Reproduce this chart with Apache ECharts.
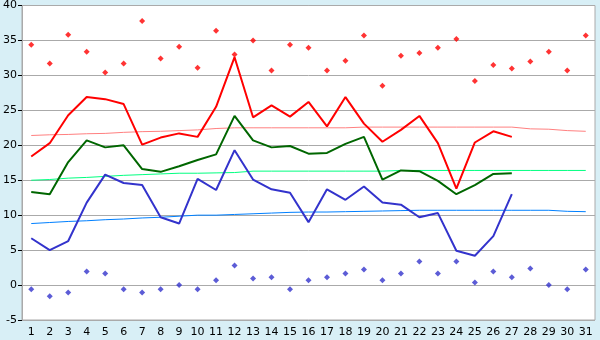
<!DOCTYPE html>
<html>
<head>
<meta charset="utf-8">
<script src="https://cdn.jsdelivr.net/npm/echarts@6/dist/echarts.min.js"></script>
<style>
  html, body { margin: 0; padding: 0; background: #d8eff6; }
  #chart { width: 600px; height: 340px; }
</style>
</head>
<body>
<div id="chart"></div>
<script>
const days = ['1','2','3','4','5','6','7','8','9','10','11','12','13','14','15','16','17','18','19','20','21','22','23','24','25','26','27','28','29','30','31']

// daily max / mean / min (observed up to day 27)
const maxTemp = [18.4, 20.3, 24.3, 26.9, 26.6, 25.9, 20.1, 21.1, 21.7, 21.2, 25.5, 32.6, 24.0, 25.7, 24.1, 26.2, 22.7, 26.9, 23.1, 20.5, 22.2, 24.2, 20.3, 13.8, 20.4, 22.0, 21.2, null, null, null, null]
const meanTemp = [13.3, 13.0, 17.6, 20.7, 19.7, 20.0, 16.6, 16.2, 17.0, 17.9, 18.7, 24.2, 20.7, 19.7, 19.9, 18.8, 18.9, 20.2, 21.2, 15.1, 16.4, 16.3, 14.9, 13.0, 14.3, 15.9, 16.0, null, null, null, null]
const minTemp = [6.7, 5.0, 6.3, 11.8, 15.8, 14.6, 14.3, 9.7, 8.8, 15.2, 13.6, 19.3, 15.1, 13.7, 13.2, 9.0, 13.7, 12.2, 14.1, 11.8, 11.5, 9.7, 10.3, 4.9, 4.2, 7.0, 13.0, null, null, null, null]

// long-term normals
const normMax = [21.4, 21.5, 21.55, 21.65, 21.7, 21.85, 21.95, 22.0, 22.1, 22.2, 22.4, 22.5, 22.5, 22.5, 22.5, 22.5, 22.5, 22.5, 22.6, 22.6, 22.6, 22.6, 22.6, 22.6, 22.6, 22.6, 22.6, 22.35, 22.3, 22.1, 22.0]
const normMean = [15.0, 15.1, 15.3, 15.4, 15.55, 15.7, 15.8, 15.9, 16.0, 16.0, 16.05, 16.1, 16.3, 16.3, 16.3, 16.3, 16.3, 16.3, 16.3, 16.3, 16.4, 16.4, 16.4, 16.4, 16.4, 16.4, 16.4, 16.4, 16.4, 16.4, 16.4]
const normMin = [8.8, 8.95, 9.1, 9.2, 9.35, 9.45, 9.6, 9.7, 9.85, 10.0, 10.0, 10.1, 10.2, 10.3, 10.4, 10.45, 10.45, 10.5, 10.55, 10.6, 10.65, 10.7, 10.7, 10.7, 10.7, 10.7, 10.7, 10.7, 10.7, 10.55, 10.5]

// records
const recordMax = [34.4, 31.7, 35.8, 33.4, 30.4, 31.7, 37.8, 32.4, 34.1, 31.1, 36.4, 33.0, 35.0, 30.7, 34.4, 33.95, 30.7, 32.1, 35.7, 28.5, 32.8, 33.2, 33.95, 35.2, 29.2, 31.5, 31.0, 32.0, 33.4, 30.7, 35.7]
const recordMin = [-0.6, -1.6, -1.05, 1.95, 1.67, -0.6, -1.05, -0.6, 0.0, -0.6, 0.67, 2.8, 0.95, 1.1, -0.6, 0.67, 1.1, 1.67, 2.24, 0.67, 1.67, 3.38, 1.67, 3.38, 0.38, 1.95, 1.1, 2.38, 0.0, -0.6, 2.24]

const chart = echarts.init(document.getElementById('chart'))

const axisText = { color: '#000', fontSize: 11, fontFamily: 'DejaVu Sans' }

function line (data, color, width, z) {
  return {
    type: 'line',
    data: data,
    showSymbol: false,
    connectNulls: false,
    z: z,
    animation: false,
    lineStyle: { color: color, width: width },
    itemStyle: { color: color }
  }
}

function dots (data, color) {
  return {
    type: 'scatter',
    data: data,
    symbol: 'diamond',
    symbolSize: 6,
    z: 5,
    animation: false,
    itemStyle: { color: color }
  }
}

chart.setOption({
  backgroundColor: '#d8eff6',
  animation: false,
  grid: {
    left: 20,
    right: 5,
    top: 5,
    bottom: 20,
    show: true,
    backgroundColor: '#fff',
    borderColor: '#aaa',
    borderWidth: 1
  },
  xAxis: {
    type: 'category',
    data: days,
    boundaryGap: true,
    axisLine: { lineStyle: { color: '#aaa' } },
    axisTick: { alignWithLabel: true, length: 5, lineStyle: { color: '#000' } },
    axisLabel: Object.assign({ margin: 7, interval: 0 }, axisText),
    splitLine: { show: false }
  },
  yAxis: {
    type: 'value',
    min: -5,
    max: 40,
    interval: 5,
    axisLine: { show: true, lineStyle: { color: '#aaa' } },
    axisTick: { show: true, length: 4, lineStyle: { color: '#000' } },
    axisLabel: Object.assign({ margin: 5 }, axisText),
    splitLine: { lineStyle: { color: '#aaa', width: 1 } }
  },
  series: [
    line(normMax, '#ff8080', 1, 2),
    line(normMean, '#00ff80', 1, 2),
    line(normMin, '#0080ff', 1, 2),
    line(maxTemp, '#ff0000', 2, 3),
    line(meanTemp, '#006600', 2, 3),
    line(minTemp, '#3333cc', 2, 3),
    dots(recordMax, '#ff0000'),
    dots(recordMin, '#3333cc')
  ]
})
</script>
</body>
</html>
